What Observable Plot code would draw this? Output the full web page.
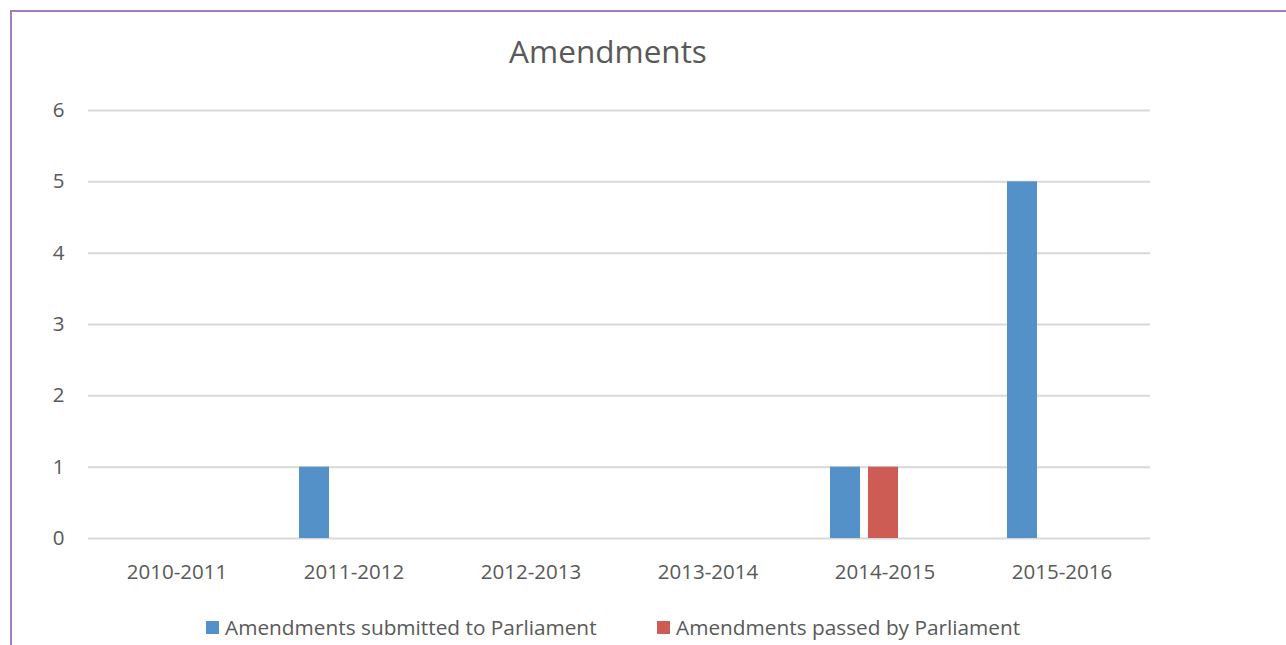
<!DOCTYPE html>
<html>
<head>
<meta charset="utf-8">
<script src="https://cdn.jsdelivr.net/npm/d3@7"></script>
<script src="https://cdn.jsdelivr.net/npm/@observablehq/plot@0.6"></script>
<style>
  html, body { margin: 0; padding: 0; background: #fff; }
  #wrap { position: relative; width: 1286px; height: 645px; overflow: hidden; font-family: "Open Sans", sans-serif; color: #595959; }
  #frame { position: absolute; left: 10px; top: 10px; width: 1400px; height: 800px; border-left: 2px solid #a17fbd; border-top: 2px solid #a17fbd; }
  #title { position: absolute; left: 0; width: 1216px; top: 29px; text-align: center; font-size: 31.5px; }
  #chart { position: absolute; left: 0; top: 0; }
  .leg { position: absolute; top: 613px; font-size: 20.8px; display: flex; align-items: center; white-space: nowrap; }
  .sw { width: 13px; height: 13px; margin-right: 6px; margin-top: 1px; }
</style>
</head>
<body>
<div id="wrap">
  <div id="frame"></div>
  <div id="chart"></div>
  <div id="title">Amendments</div>
  <div class="leg" style="left:206px"><div class="sw" style="background:#5591c9"></div><span>Amendments submitted to Parliament</span></div>
  <div class="leg" style="left:657px"><div class="sw" style="background:#cd5c55"></div><span>Amendments passed by Parliament</span></div>
</div>
<script>
const years = ["2010-2011", "2011-2012", "2012-2013", "2013-2014", "2014-2015", "2015-2016"];
const seriesNames = ["Amendments submitted to Parliament", "Amendments passed by Parliament"];
const submitted = [0, 1, 0, 0, 1, 5];
const passed = [0, 0, 0, 0, 1, 0];
const yTicks = [0, 1, 2, 3, 4, 5, 6];
const colors = ["#5591c9", "#cd5c55"];

const data = [];
years.forEach((yr, i) => {
  data.push({year: yr, series: seriesNames[0], value: submitted[i]});
  data.push({year: yr, series: seriesNames[1], value: passed[i]});
});

const chart = Plot.plot({
  width: 1286,
  height: 600,
  marginLeft: 87,
  marginRight: 136,
  marginTop: 110,
  marginBottom: 62,
  style: {fontFamily: "'Open Sans', sans-serif", fontSize: "20.5px", color: "#595959", background: "transparent"},
  fx: {domain: years, padding: 0, label: null, axis: "bottom", tickSize: 0, tickPadding: 26},
  x: {domain: seriesNames, axis: null, paddingInner: 0.2, paddingOuter: 1.4, align: 0.315},
  y: {domain: [0, 6], ticks: yTicks, tickSize: 0, tickPadding: 24, label: null, tickFormat: d3.format("d")},
  color: {domain: seriesNames, range: colors},
  marks: [
    Plot.ruleY(yTicks, {stroke: "#d9d9d9", strokeWidth: 2}),
    Plot.barY(data, {fx: "year", x: "series", y: "value", fill: "series"})
  ]
});
document.getElementById("chart").appendChild(chart);
</script>
</body>
</html>
